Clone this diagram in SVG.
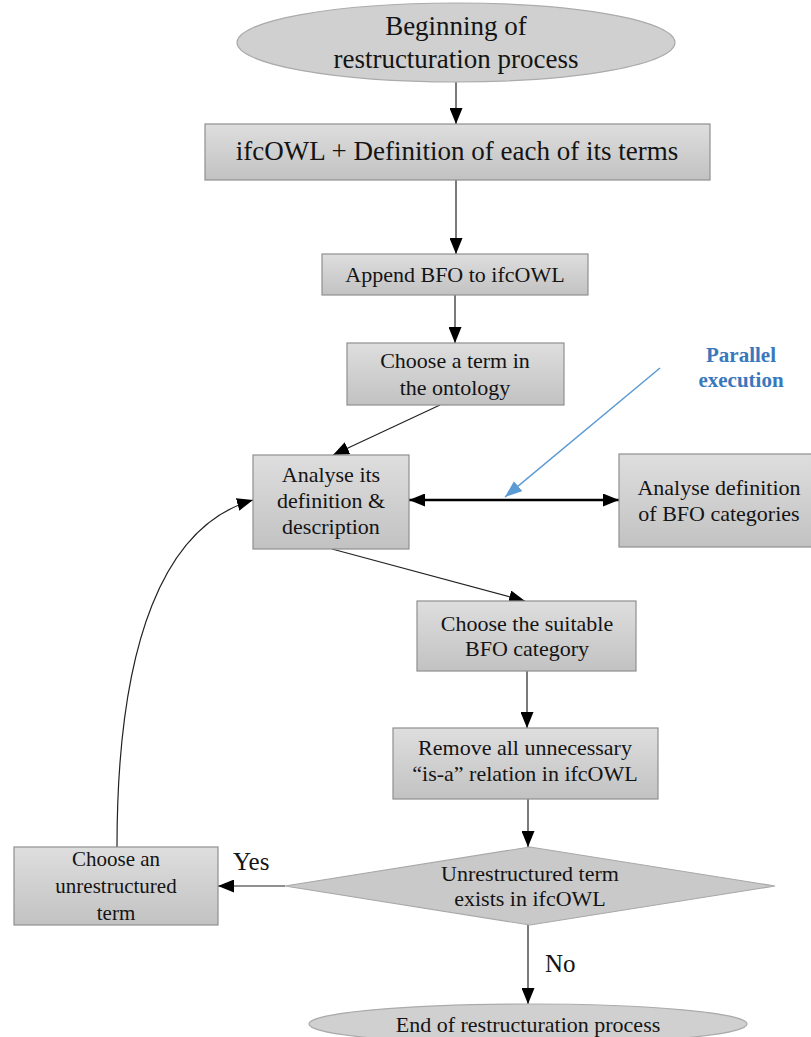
<svg xmlns="http://www.w3.org/2000/svg" width="811" height="1037" viewBox="0 0 811 1037">
<defs>
<linearGradient id="g" x1="0" y1="0" x2="0" y2="1">
<stop offset="0" stop-color="#dedede"/>
<stop offset="1" stop-color="#c2c2c2"/>
</linearGradient>
<marker id="ah" viewBox="0 0 16 13" refX="16" refY="6.5" markerWidth="16" markerHeight="13" markerUnits="userSpaceOnUse" orient="auto-start-reverse">
<path d="M0,0 L16,6.5 L0,13 z" fill="#000"/>
</marker>
<marker id="bh" viewBox="0 0 17 13" refX="17" refY="6.5" markerWidth="17" markerHeight="13" markerUnits="userSpaceOnUse" orient="auto">
<path d="M0,0 L17,6.5 L0,13 z" fill="#5b9bd5"/>
</marker>
</defs>
<style>
.box{fill:url(#g);stroke:#8f8f8f;stroke-width:1.2}
.ell{fill:#d0d0d0;stroke:#ababab;stroke-width:1.2}
.dia{fill:#c9c9c9;stroke:#a8a8a8;stroke-width:1.2}
.t{font-family:"Liberation Serif","Times New Roman",serif;fill:#141414;text-anchor:middle;font-size:22px}
.big{font-size:27px}
.lbl{font-family:"Liberation Serif","Times New Roman",serif;fill:#141414;font-size:25px}
.conn{stroke:#222;stroke-width:1.2;fill:none;marker-end:url(#ah)}
.par{font-family:"Liberation Serif","Times New Roman",serif;font-weight:bold;fill:#3a78bd;text-anchor:middle;font-size:21px}
</style>

<g id="connectors">
<path class="conn" d="M456,82 L456,124"/>
<path class="conn" d="M456,180 L456,254"/>
<path class="conn" d="M455,295 L455,343"/>
<path class="conn" d="M440,405 L333,455"/>
<path class="conn" d="M332,549 L525,601"/>
<path class="conn" d="M527,671 L527,728"/>
<path class="conn" d="M528,799 L528,847"/>
<path class="conn" d="M528,925 L528,1004"/>
<path class="conn" d="M285,886 L218,886"/>
<path class="conn" d="M117,847 C117,640 165,525 253,500"/>
<path d="M409,500 L619,500" stroke="#000" stroke-width="2.5" fill="none" marker-start="url(#ah)" marker-end="url(#ah)"/>
<path d="M660,368 L505,497" stroke="#5b9bd5" stroke-width="1.5" fill="none" marker-end="url(#bh)"/>
<text class="lbl" x="233" y="870">Yes</text>
<text class="lbl" x="545" y="972">No</text>
<text class="par" x="741" y="362">Parallel</text>
<text class="par" x="741" y="387">execution</text>
</g>

<g id="start">
<ellipse class="ell" cx="456" cy="42.5" rx="219" ry="39.5"/>
<text class="t big" x="456" y="35">Beginning of</text>
<text class="t big" x="456" y="68">restructuration process</text>
</g>

<g id="ifcowl">
<rect class="box" x="205" y="124" width="505" height="56"/>
<text class="t big" x="457" y="160">ifcOWL + Definition of each of its terms</text>
</g>

<g id="append">
<rect class="box" x="322" y="254" width="266" height="41"/>
<text class="t" x="455" y="282">Append BFO to ifcOWL</text>
</g>

<g id="choose-term">
<rect class="box" x="347" y="343" width="217" height="62"/>
<text class="t" x="455" y="368">Choose a term in</text>
<text class="t" x="455" y="395">the ontology</text>
</g>

<g id="analyse-its">
<rect class="box" x="253" y="455" width="156" height="94"/>
<text class="t" x="331" y="482">Analyse its</text>
<text class="t" x="331" y="508">definition &amp;</text>
<text class="t" x="331" y="534">description</text>
</g>

<g id="analyse-bfo">
<rect class="box" x="619" y="454" width="194" height="93"/>
<text class="t" x="719" y="495">Analyse definition</text>
<text class="t" x="719" y="521">of BFO categories</text>
</g>

<g id="choose-category">
<rect class="box" x="417" y="601" width="219" height="70"/>
<text class="t" x="527" y="631">Choose the suitable</text>
<text class="t" x="527" y="656">BFO category</text>
</g>

<g id="remove">
<rect class="box" x="393" y="728" width="265" height="71"/>
<text class="t" x="525" y="755">Remove all unnecessary</text>
<text class="t" x="525" y="781">“is-a” relation in ifcOWL</text>
</g>

<g id="decision">
<polygon class="dia" points="285,886 530,847 775,886 530,925"/>
<text class="t" x="530" y="881">Unrestructured term</text>
<text class="t" x="530" y="906">exists in ifcOWL</text>
</g>

<g id="choose-unrestructured">
<rect class="box" x="14" y="847" width="204" height="78"/>
<text class="t" x="116" y="866" style="font-size:21px">Choose an</text>
<text class="t" x="116" y="893" style="font-size:21px">unrestructured</text>
<text class="t" x="116" y="920" style="font-size:21px">term</text>
</g>

<g id="end">
<ellipse class="ell" cx="528" cy="1024" rx="219" ry="20"/>
<text class="t" x="528" y="1032">End of restructuration process</text>
</g>
</svg>
